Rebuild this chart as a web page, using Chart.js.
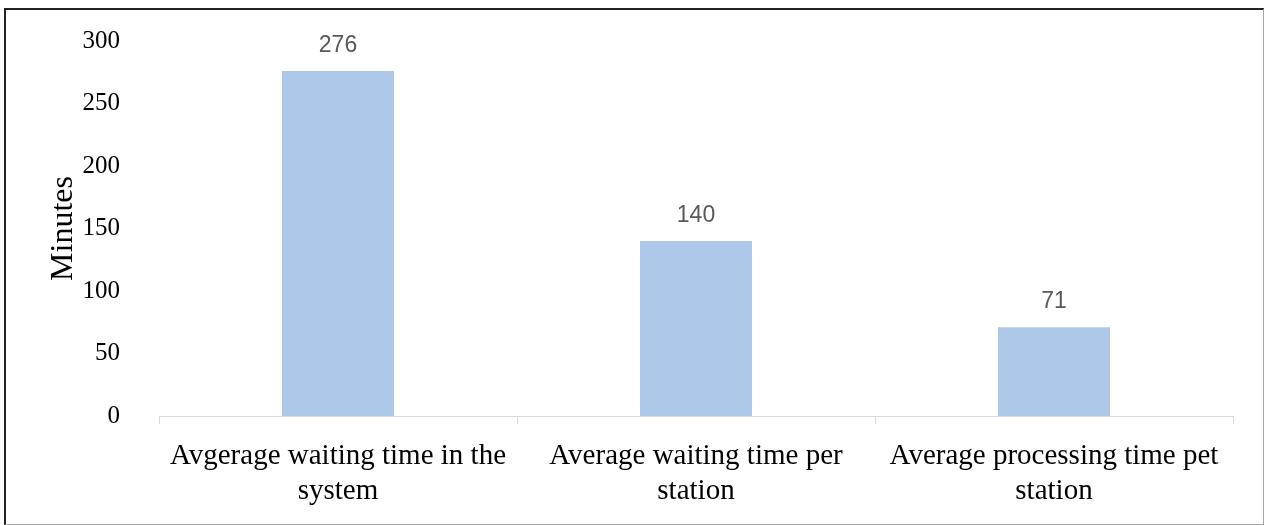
<!DOCTYPE html>
<html>
<head>
<meta charset="utf-8">
<script src="https://cdn.jsdelivr.net/npm/chart.js@4.4.0/dist/chart.umd.min.js"></script>
<style>
  html, body { margin: 0; padding: 0; background: #fff; }
  #wrap { position: relative; width: 1264px; height: 525px; }
  #myChart { position: absolute; left: 0; top: 0; }
  #frame {
    position: absolute; left: 4px; top: 8px; width: 1257px; height: 514px;
    border-left: 2px solid #222; border-top: 2px solid #222;
    border-right: 1px solid #a6a6a6; border-bottom: 1px solid #a6a6a6;
    pointer-events: none;
  }
</style>
</head>
<body>
<div id="wrap">
  <canvas id="myChart" width="1264" height="525"></canvas>
  <div id="frame"></div>
</div>
<script>
// categories and values
const categories = [
  ['Avgerage waiting time in the', 'system'],
  ['Average waiting time per', 'station'],
  ['Average processing time pet', 'station']
];
const minutes = [276, 140, 71];
const yTicks = [0, 50, 100, 150, 200, 250, 300];

// draw the value above each bar
const valueLabels = {
  id: 'valueLabels',
  afterDatasetsDraw(chart) {
    const ctx = chart.ctx;
    const meta = chart.getDatasetMeta(0);
    ctx.save();
    ctx.font = '23px "Liberation Sans", Arial, sans-serif';
    ctx.fillStyle = '#595959';
    ctx.textAlign = 'center';
    ctx.textBaseline = 'alphabetic';
    meta.data.forEach((bar, i) => {
      ctx.fillText(String(minutes[i]), bar.x, bar.y - 19);
    });
    ctx.restore();
  }
};

const ctx = document.getElementById('myChart').getContext('2d');
const myChart = new Chart(ctx, {
  type: 'bar',
  data: {
    labels: categories,
    datasets: [{
      data: minutes,
      backgroundColor: '#aec8e9',
      borderWidth: 0,
      categoryPercentage: 1,
      barPercentage: 0.313
    }]
  },
  options: {
    responsive: false,
    animation: false,
    layout: { padding: { top: 41, right: 31, bottom: 0, left: 0 } },
    plugins: {
      legend: { display: false },
      tooltip: { enabled: false }
    },
    scales: {
      x: {
        grid: { display: true, drawOnChartArea: false, drawTicks: true, tickLength: 8, color: '#d9d9d9' },
        border: { display: true, color: '#d9d9d9', width: 1 },
        ticks: {
          color: '#000', padding: 15, maxRotation: 0, autoSkip: false,
          font: { family: '"Liberation Serif", "Times New Roman", serif', size: 29, lineHeight: 1.2 }
        },
        afterFit: (s) => { s.height = 109; }
      },
      y: {
        min: 0, max: 300,
        grid: { display: false },
        border: { display: false },
        afterBuildTicks: (s) => { s.ticks = yTicks.map(v => ({ value: v })); },
        ticks: { color: '#000', padding: 31, font: { family: '"Liberation Serif", "Times New Roman", serif', size: 25 } },
        title: {
          display: true, text: 'Minutes', color: '#000',
          padding: { top: 44, bottom: 0 },
          font: { family: '"Liberation Serif", "Times New Roman", serif', size: 32 }
        },
        afterFit: (s) => { s.width = 159; s.paddingTop = 0; s.paddingBottom = 0; }
      }
    }
  },
  plugins: [valueLabels]
});
</script>
</body>
</html>
